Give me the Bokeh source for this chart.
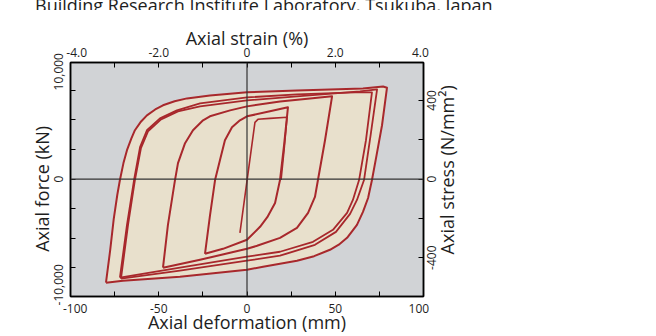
import math
from bokeh.plotting import figure
from bokeh.layouts import column
from bokeh.models import Range1d, LinearAxis, FixedTicker, Span, Div
from bokeh.embed import file_html
from bokeh.resources import INLINE

# ---------------- data ----------------
deform_ticks = [-100, -50, 0, 50, 100]
deform_minor = [-75, -25, 25, 75]
strain_ticks = [-4, -2, 0, 2, 4]
strain_minor = [-3, -1, 1, 3]
force_ticks = [-10000, 0, 10000]
force_minor = [-6667, -3333, 3333, 6667]
stress_ticks = [-400, 0, 400]
stress_minor = [-200, 200]

NB = "\u00a0"
deform_labels = {-100: NB * 3 + "-100", -50: "-50", 0: "0", 50: "50", 100: "100" + NB * 3}
strain_labels = {-4: NB * 4 + "-4.0", -2: "-2.0", 0: "0", 2: "2.0", 4: "4.0" + NB * 2}
force_labels = {10000: NB * 12 + "10,000", 0: "0", -10000: "-10,000" + NB * 11}

title_text = "Building Research Institute Laboratory, Tsukuba, Japan"

specimen_length_mm = 2500.0   # 50 mm = 2.0 %
core_area_mm2 = 22190.0       # 400 N/mm2 ~ 8880 kN

# hysteresis loops: deformation (mm), axial force (kN)
first_x = [-4.0, 4.5, 6.2, 13.0, 22.7, 21.0, 19.3]
first_y = [-6070, 6400, 6740, 6850, 6970, 3260, -110]

loop24_x = [-23.8, -21.0, -18.1, -15.3, -12.5, -8.5, -4.0, 0.0, 13.0, 23.2,
            21.0, 18.7, 15.9, 11.5, 7.4, 0.0, -13.6, -23.8]
loop24_y = [-8430, -4160, -110, 2140, 4380, 5840, 6630, 7080, 7640, 8090,
            3820, -110, -2700, -4300, -5390, -6850, -7870, -8430]

loop48_x = [-47.6, -44.8, -40.8, -39.1, -35.1, -30.6, -24.9, -21.0, -9.6, 0.0, 18.7, 35.7, 48.2,
            44.2, 40.2, 38.5, 34.6, 28.3, 18.7, 5.7, 0.0, -9.6, -26.6, -47.6]
loop48_y = [-10000, -5170, -110, 1800, 4050, 5510, 6630, 7080, 7750, 8200, 8760, 9100, 9330,
            4380, -110, -2020, -3820, -5510, -6630, -7530, -7870, -8320, -9100, -10000]

loop72a_x = [-72.0, -68.0, -64.0, -60.6, -56.7, -49.3, -39.7, -26.6, 0.0, 28.3, 61.2, 70.8,
             67.4, 63.5, 60.0, 56.7, 48.7, 37.4, 18.7, 0.0, -38.0, -72.0]
loop72a_y = [-11120, -5170, -110, 3600, 5510, 6850, 7750, 8540, 9210, 9550, 9780, 9780,
             4380, -110, -2360, -3820, -5730, -7080, -8200, -8760, -10000, -11120]

loop72b_x = [-71.4, -67.4, -63.5, -60.1, -56.1, -48.7, -39.1, -26.6, 0.0, 28.3, 64.0, 73.7,
             70.0, 66.3, 62.3, 58.4, 50.4, 38.5, 18.7, 0.0, -38.0, -71.4]
loop72b_y = [-11240, -5170, -110, 3480, 5390, 6740, 7640, 8200, 8880, 9330, 9890, 10110,
             4900, -110, -2360, -3930, -5960, -7420, -8650, -9210, -10340, -11240]

loop80_x = [-79.9, -77.5, -75.5, -73.5, -72.0, -70.0, -68.0, -65.5, -63.5, -60.0, -56.7, -52.0, -47.6,
            -41.0, -34.0, -21.0, 0.0, 28.3, 65.7, 77.1, 79.3,
            76.5, 73.1, 70.8, 68.6, 65.7, 62.3, 56.7, 52.0, 47.0, 38.0, 28.3, 9.1, 0.0, -38.0, -70.3, -79.9]
loop80_y = [-11690, -8000, -4500, -1800, -110, 1800, 3260, 4600, 5510, 6500, 7190, 7850, 8320,
            8780, 9100, 9440, 9780, 10000, 10230, 10450, 10300,
            6070, 2360, -110, -2140, -3710, -5170, -6630, -7400, -7980, -8700, -9210, -9890, -10230, -11010, -11460, -11690]

# ---------------- styling ----------------
BG = "#d1d3d6"
FILL = "#e8e0cc"
RED = "#a8282c"
FONT = "Open Sans"
TXT = "#1e1e1e"
W = 656
TICK_PX = 12
LABEL_PX = 18

# heading strip: the heading is cut off at the top edge, as in the source picture
head = Div(text=('<div style="margin:-9px 0 0 35px; white-space:nowrap; font-family:\'Open Sans\';'
                 ' font-size:18px; line-height:18px; color:%s">%s</div>') % (TXT, title_text),
           width=W, height=10, margin=(0, 0, 0, 0), styles={"overflow": "hidden"})

x0, x1 = -100, 100
y0, y1 = -13250, 13150
frame_left, frame_right, frame_top, frame_bottom = 70, 423, 52, 287

p = figure(width=W, height=326, output_backend="svg", toolbar_location=None,
           x_range=Range1d(x0, x1), y_range=Range1d(y0, y1),
           x_axis_location=None, y_axis_location=None,
           min_border_left=frame_left, min_border_right=W - frame_right,
           min_border_top=frame_top, min_border_bottom=326 - frame_bottom)
p.xgrid.visible = False
p.ygrid.visible = False
p.background_fill_color = BG
p.border_fill_color = "white"
p.outline_line_color = "black"
p.outline_line_width = 1.5

s0, s1 = y0 * 1000 / core_area_mm2, y1 * 1000 / core_area_mm2
p.extra_x_ranges = {"strain": Range1d(x0 / specimen_length_mm * 100, x1 / specimen_length_mm * 100)}
p.extra_y_ranges = {"stress": Range1d(s0, s1)}


def style(ax, major, minor):
    ax.ticker = FixedTicker(ticks=major, minor_ticks=minor)
    ax.major_tick_in = 5
    ax.major_tick_out = 0
    ax.minor_tick_in = 5
    ax.minor_tick_out = 0
    ax.axis_line_color = "black"
    ax.axis_line_width = 1.5
    ax.major_tick_line_color = "black"
    ax.minor_tick_line_color = "black"
    ax.major_label_text_font = FONT
    ax.major_label_text_font_size = "%dpx" % TICK_PX
    ax.major_label_text_color = TXT
    ax.axis_label_text_font = FONT
    ax.axis_label_text_font_size = "%dpx" % LABEL_PX
    ax.axis_label_text_font_style = "normal"
    ax.axis_label_text_color = TXT


bottom = LinearAxis(axis_label="Axial deformation (mm)")
style(bottom, deform_ticks, deform_minor)
bottom.major_label_overrides = deform_labels
bottom.major_label_standoff = 3
bottom.axis_label_standoff = -10
p.add_layout(bottom, "below")

top = LinearAxis(x_range_name="strain", axis_label="Axial strain (%)")
style(top, strain_ticks, strain_minor)
top.major_label_overrides = strain_labels
top.major_label_standoff = 2
top.axis_label_standoff = -9
p.add_layout(top, "above")

left = LinearAxis(axis_label="Axial force (kN)" + NB * 4)
style(left, force_ticks, force_minor)
left.major_label_overrides = force_labels
left.major_label_orientation = "vertical"
left.major_label_standoff = 3
left.axis_label_standoff = -6
p.add_layout(left, "left")

# right axis: labels read bottom-to-top; Bokeh starts such a label at its tick,
# so each label is anchored half its length below the tick it names.
right = LinearAxis(y_range_name="stress")
style(right, stress_ticks, stress_minor)
em = {"-": 0.322, "0": 0.572, "4": 0.572}
px_per_unit = (frame_bottom - frame_top) / (s1 - s0)
anchors = [v - 0.5 * sum(em[c] for c in str(v)) * TICK_PX / px_per_unit for v in stress_ticks]
right.ticker = FixedTicker(ticks=anchors, minor_ticks=stress_ticks + stress_minor)
right.major_tick_in = 0
right.major_label_overrides = {a: str(v) for a, v in zip(anchors, stress_ticks)}
right.major_label_orientation = math.pi / 2
right.major_label_standoff = 8
try:
    right.axis_label_align = "start"
    right.axis_label_orientation = math.pi / 2
    right.axis_label = NB * 9 + "Axial stress (N/mm²)"
    right.axis_label_standoff = 3
except Exception:
    right.axis_label = "Axial stress (N/mm²)"
    right.axis_label_standoff = 0
p.add_layout(right, "right")

# filled envelope
p.patch(loop80_x, loop80_y, fill_color=FILL, line_color=None)

# loop traces
for xs, ys, w in [(first_x, first_y, 1.6), (loop24_x, loop24_y, 2.0), (loop48_x, loop48_y, 2.0),
                  (loop72a_x, loop72a_y, 1.8), (loop72b_x, loop72b_y, 1.8), (loop80_x, loop80_y, 2.0)]:
    p.line(xs, ys, line_color=RED, line_width=w, line_join="round")

# zero lines
p.add_layout(Span(location=0, dimension="width", line_color="#333333", line_width=1.2))
p.add_layout(Span(location=0, dimension="height", line_color="#333333", line_width=1.2))

layout = column(head, p, spacing=0)
open("out.html", "w").write(file_html(layout, INLINE))
